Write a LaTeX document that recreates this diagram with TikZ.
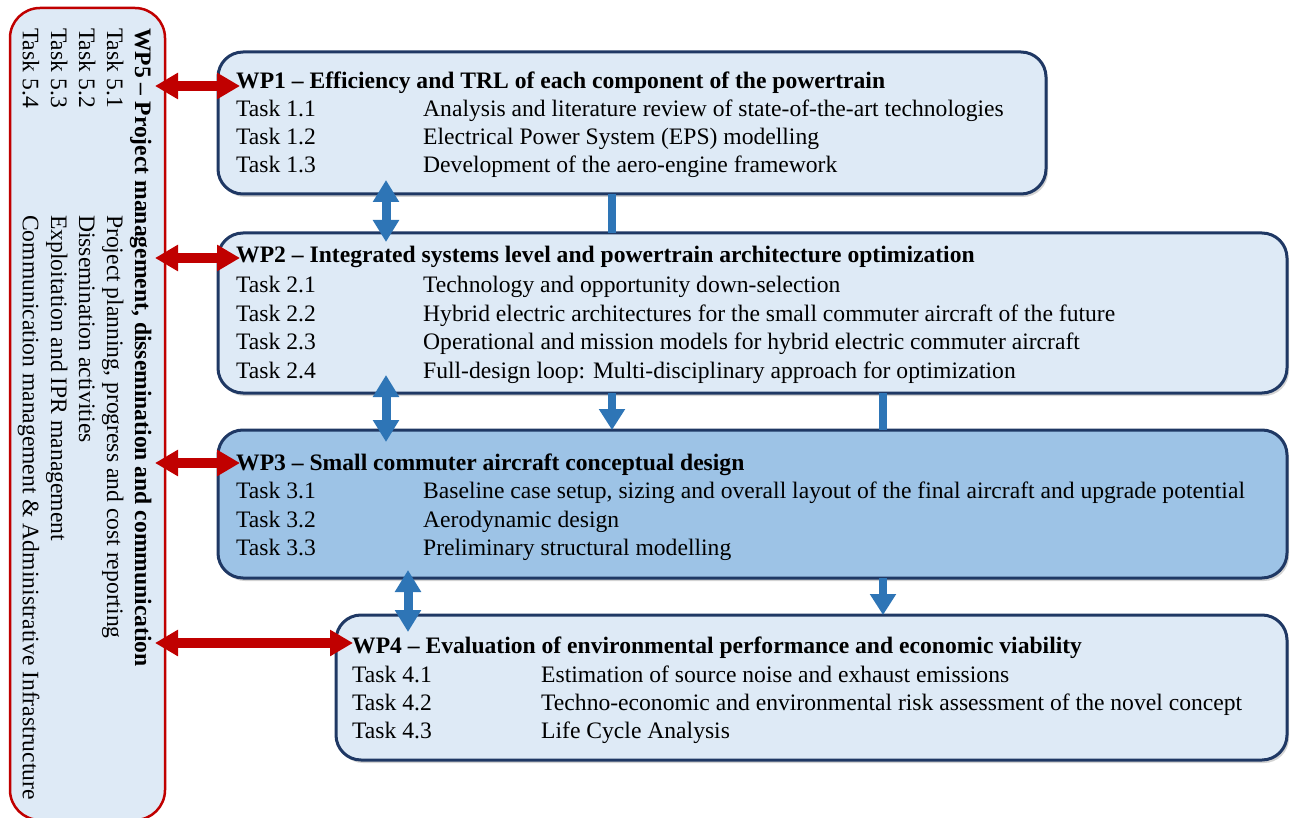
\documentclass[tikz,border=0pt]{standalone}
\usepackage{fontspec}
\setmainfont{Liberation Serif}
\usetikzlibrary{arrows.meta,shadows}
\definecolor{boxfill}{HTML}{DEEAF6}
\definecolor{boxfilldark}{HTML}{9DC3E6}
\definecolor{navy}{HTML}{1F3864}
\definecolor{arrblue}{HTML}{2E75B6}
\definecolor{arrred}{HTML}{C00000}
\newcommand\fsz{\fontsize{23.6}{28}\selectfont}
\tikzset{
  wpbox/.style={draw=navy, line width=3pt, rounded corners=25pt, fill=boxfill, inner sep=0pt, outer sep=0pt,
    anchor=north west, drop shadow={shadow xshift=2pt, shadow yshift=-3pt, opacity=0.35}},
  redbox/.style={draw=arrred, line width=2.5pt, rounded corners=30pt, fill=boxfill, inner sep=0pt, outer sep=0pt, anchor=north west},
  txt/.style={anchor=base west, inner sep=0pt, font=\fsz},
  hd/.style={anchor=base west, inner sep=0pt, font=\fsz\bfseries},
  redarrow/.style={draw=arrred, line width=10pt, {Triangle[length=23pt,width=25pt]}-{Triangle[length=23pt,width=25pt]}},
  bluedouble/.style={draw=arrblue, line width=9pt, {Triangle[length=22pt,width=25pt]}-{Triangle[length=22pt,width=25pt]}},
  bluebar/.style={draw=arrblue, line width=8pt},
  bluedown/.style={draw=arrblue, line width=8pt, -{Triangle[length=21pt,width=25pt]}},
}
\begin{document}
\begin{tikzpicture}[x=1pt,y=-1pt]
\useasboundingbox (0,0) rectangle (1290,818);
% boxes
\node[redbox, minimum width=155pt, minimum height=812pt] (wp5) at (10,8) {};
\node[wpbox, minimum width=828pt, minimum height=142pt] (wp1) at (218,52) {};
\node[wpbox, minimum width=1069pt, minimum height=160pt] (wp2) at (218,233) {};
\node[wpbox, minimum width=1069pt, minimum height=148pt, fill=boxfilldark] (wp3) at (218,430) {};
\node[wpbox, minimum width=951pt, minimum height=145pt] (wp4) at (336,615) {};
% helper coordinates
\coordinate (c386) at (386,0);
\coordinate (c405) at (408,0);
\coordinate (c612) at (612,0);
\coordinate (c883) at (883,0);
\coordinate (r1) at (0,86);
\coordinate (r2) at (0,258);
\coordinate (r3) at (0,463);
\coordinate (r4) at (0,643);
% red arrows
\draw[redarrow, shorten <=-10pt, shorten >=-22pt] (wp5.east |- r1) -- (wp1.west |- r1);
\draw[redarrow, shorten <=-10pt, shorten >=-22pt] (wp5.east |- r2) -- (wp2.west |- r2);
\draw[redarrow, shorten <=-10pt, shorten >=-22pt] (wp5.east |- r3) -- (wp3.west |- r3);
\draw[redarrow, shorten <=-10pt, shorten >=-17pt] (wp5.east |- r4) -- (wp4.west |- r4);
% blue connectors
\draw[bluedouble, shorten <=-14pt, shorten >=-9pt] (wp1.south -| c386) -- (wp2.north -| c386);
\draw[bluebar] (wp1.south -| c612) -- (wp2.north -| c612);
\draw[bluedouble, shorten <=-18pt, shorten >=-12pt] (wp2.south -| c386) -- (wp3.north -| c386);
\draw[bluedown] (wp2.south -| c612) -- (wp3.north -| c612);
\draw[bluebar] (wp2.south -| c883) -- (wp3.north -| c883);
\draw[bluedouble, shorten <=-8pt, shorten >=-17pt] (wp3.south -| c405) -- (wp4.north -| c405);
\draw[bluedown] (wp3.south -| c883) -- (wp4.north -| c883);
% WP1
\node[hd] (h1) at (236,89) {WP1 \textendash{} Efficiency and TRL of each component of the powertrain};
\node[txt] (t11) at (236,117) {Task 1.1};
\node[txt] (d11) at (423,117) {Analysis and literature review of state-of-the-art technologies};
\node[txt] (t12) at (236,145) {Task 1.2};
\node[txt] (d12) at (423,145) {Electrical Power System (EPS) modelling};
\node[txt] (t13) at (236,173) {Task 1.3};
\node[txt] (d13) at (423,173) {Development of the aero-engine framework};
% WP2
\node[hd] (h2) at (236,263) {WP2 \textendash{} Integrated systems level and powertrain architecture optimization};
\node[txt] (t21) at (236,293) {Task 2.1};
\node[txt] (d21) at (423,293) {Technology and opportunity down-selection};
\node[txt] (t22) at (236,321) {Task 2.2};
\node[txt] (d22) at (423,321) {Hybrid electric architectures for the small commuter aircraft of the future};
\node[txt] (t23) at (236,349) {Task 2.3};
\node[txt] (d23) at (423,349) {Operational and mission models for hybrid electric commuter aircraft};
\node[txt] (t24) at (236,378) {Task 2.4};
\node[txt] (d24) at (423,378) {Full-design loop: Multi-disciplinary approach for optimization};
% WP3
\node[hd] (h3) at (236,470) {WP3 \textendash{} Small commuter aircraft conceptual design};
\node[txt] (t31) at (236,498) {Task 3.1};
\node[txt] (d31) at (423,498) {Baseline case setup, sizing and overall layout of the final aircraft and upgrade potential};
\node[txt] (t32) at (236,527) {Task 3.2};
\node[txt] (d32) at (423,527) {Aerodynamic design};
\node[txt] (t33) at (236,555) {Task 3.3};
\node[txt] (d33) at (423,555) {Preliminary structural modelling};
% WP4
\node[hd] (h4) at (352,653) {WP4 \textendash{} Evaluation of environmental performance and economic viability};
\node[txt] (t41) at (352,682) {Task 4.1};
\node[txt] (d41) at (541,682) {Estimation of source noise and exhaust emissions};
\node[txt] (t42) at (352,710) {Task 4.2};
\node[txt] (d42) at (541,710) {Techno-economic and environmental risk assessment of the novel concept};
\node[txt] (t43) at (352,738) {Task 4.3};
\node[txt] (d43) at (541,738) {Life Cycle Analysis};
% WP5 (rotated)
\node[hd, rotate=-90] (h5) at (135,28) {WP5 \textendash{} Project management, dissemination and communication};
\node[txt, rotate=-90] (t51) at (107,28) {Task 5.1};
\node[txt, rotate=-90] (d51) at (107,215) {Project planning, progress and cost reporting};
\node[txt, rotate=-90] (t52) at (79,28) {Task 5.2};
\node[txt, rotate=-90] (d52) at (79,215) {Dissemination activities};
\node[txt, rotate=-90] (t53) at (51,28) {Task 5.3};
\node[txt, rotate=-90] (d53) at (51,215) {Exploitation and IPR management};
\node[txt, rotate=-90] (t54) at (23,28) {Task 5.4};
\node[txt, rotate=-90] (d54) at (23,215) {Communication management \& Administrative Infrastructure};
\end{tikzpicture}
\end{document}
